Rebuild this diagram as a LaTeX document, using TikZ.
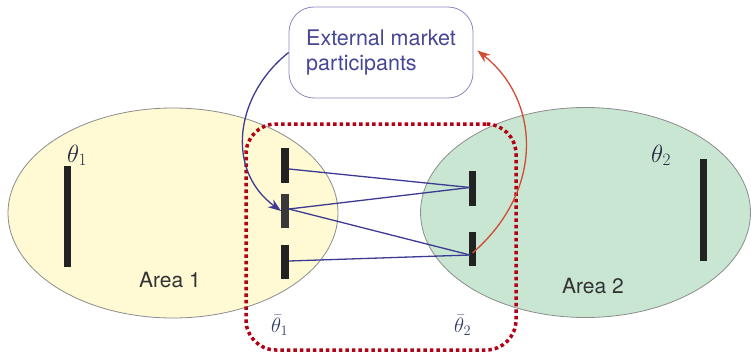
\documentclass[tikz,border=0pt]{standalone}
\usepackage{fontspec}
\setsansfont{TeX Gyre Heros}
\usetikzlibrary{arrows.meta,calc,shapes.geometric}
\definecolor{yel}{RGB}{255,249,212}
\definecolor{grn}{RGB}{200,230,210}
\definecolor{outl}{RGB}{140,140,140}
\definecolor{barc}{RGB}{34,34,34}
\definecolor{bluel}{RGB}{60,58,145}
\definecolor{redl}{RGB}{210,75,50}
\definecolor{dotred}{RGB}{180,0,20}
\definecolor{extb}{RGB}{140,136,192}
\definecolor{extt}{RGB}{70,70,150}
\definecolor{lbl}{RGB}{50,60,100}
\definecolor{thl}{RGB}{40,42,70}
\begin{document}
\begin{tikzpicture}[x=1pt,y=-1pt,
  areashape/.style={ellipse, draw=outl, line width=0.8pt, minimum width=330pt, minimum height=210pt, inner sep=0pt},
  bar/.style={fill=barc, draw=none, minimum width=7.5pt, inner sep=0pt},
  link/.style={bluel, line width=1.3pt},
  ext/.style={draw=extb, line width=0.8pt, rounded corners=25pt, minimum width=184pt, minimum height=91pt, align=left, text=extt, font=\sffamily\fontsize{21.5}{25}\selectfont},
  arealbl/.style={font=\sffamily\fontsize{21}{25}\selectfont, text=black!80, anchor=base},
  mathlbl/.style={font=\fontsize{21}{25}\selectfont, anchor=base west, inner sep=1pt},
  grp/.style={draw=dotred, line width=3.5pt, dash pattern=on 3.5pt off 3pt, rounded corners=30pt, minimum width=270pt, minimum height=226pt, inner sep=0pt}
]
\useasboundingbox (0,0) rectangle (751,353);

\node[areashape, fill=yel] (area1) at (173,213) {};
\node[areashape, fill=grn] (area2) at (585.5,212.5) {};

\node[grp] (group) at (381,237) {};

\node[bar, minimum height=101pt] (t1) at (67.5,216.5) {};
\node[bar, minimum height=102pt] (t2) at (703.5,210) {};
\node[bar, minimum height=35pt] (b1) at (285,165.5) {};
\node[bar, minimum height=34pt, fill=black!78] (b2) at (285,211) {};
\node[bar, minimum height=34pt] (b3) at (285,262) {};
\node[bar, minimum height=35pt] (bA) at (472.5,188.5) {};
\node[bar, minimum height=34pt] (bB) at (472.5,249) {};

\draw[link] ([yshift=-3.5pt]b1.east) -- ([xshift=-2.5pt,yshift=1pt]bA.center);
\draw[link] ([yshift=2pt]b2.east) -- ([xshift=-2.5pt,yshift=1pt]bA.center);
\draw[link] ([yshift=2pt]b2.east) -- ([xshift=-2.5pt,yshift=-6pt]bB.center);
\draw[link] ([yshift=1pt]b3.east) -- ([xshift=-2.5pt,yshift=-6pt]bB.center);

\node[ext] (ext) at (381,52.5) {External market\\participants};

\draw[bluel, line width=1.3pt, -{Stealth[length=13pt,width=9.5pt]}] (ext.west) .. controls (235,95) and (225,170) .. (b2.west);
\draw[redl, line width=1.3pt, -{Stealth[length=13pt,width=9.5pt]}] ([yshift=-4pt]bB.center) .. controls (545,190) and (540,100) .. ([xshift=4pt,yshift=2pt]ext.east);

\node[arealbl] (a1lbl) at (170,287) {Area 1};
\node[arealbl] (a2lbl) at (593,293) {Area 2};
\node[mathlbl, text=thl, font=\fontsize{23}{27}\selectfont] (th1) at (66,162) {$\theta_1$};
\node[mathlbl, text=thl, font=\fontsize{23}{27}\selectfont] (th2) at (650,162) {$\theta_2$};
\node[mathlbl, text=lbl] (tb1) at (270,332) {$\bar\theta_1$};
\node[mathlbl, text=lbl] (tb2) at (453,332) {$\bar\theta_2$};
\end{tikzpicture}
\end{document}
